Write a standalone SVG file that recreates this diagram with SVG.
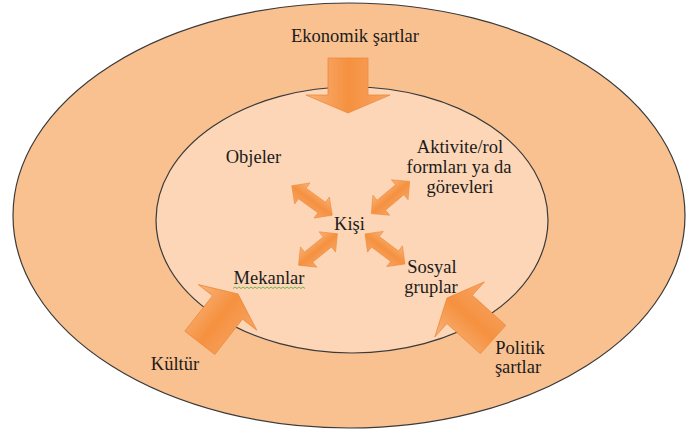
<svg xmlns="http://www.w3.org/2000/svg" width="686" height="434" viewBox="0 0 686 434">
  <defs>
    <linearGradient id="gBig" x1="0" y1="0" x2="1" y2="0">
      <stop offset="0" stop-color="#F9B37B"/>
      <stop offset="0.5" stop-color="#F5913F"/>
      <stop offset="1" stop-color="#F7A465"/>
    </linearGradient>
    <linearGradient id="gSmall" x1="0" y1="0" x2="0" y2="1">
      <stop offset="0" stop-color="#F9B37B"/>
      <stop offset="0.5" stop-color="#F5913F"/>
      <stop offset="1" stop-color="#F7A465"/>
    </linearGradient>
    <polygon id="bigArrow" points="0,0 37,17 19,17 19,62 -19,62 -19,17 -37,17"/>
    <polygon id="dblArrow" points="-25,0 -12,-13 -12,-6.5 12,-6.5 12,-13 25,0 12,13 12,6.5 -12,6.5 -12,13"/>
  </defs>
  <style>
    .outer { fill: #F9C190; stroke: #3a3a3a; stroke-width: 1.2; }
    .inner { fill: #FCD6B6; stroke: #3a3a3a; stroke-width: 1.2; }
    .big { fill: url(#gBig); stroke: #EE8A3C; stroke-width: 0.8; }
    .small { fill: url(#gSmall); stroke: #EE8A3C; stroke-width: 0.6; }
    .lbl { font-family: "Liberation Serif", "Times New Roman", "DejaVu Serif", serif; font-size: 18.5px; fill: #1b1b1b; text-anchor: middle; }
  </style>

  <g id="outer-circle">
    <ellipse class="outer" cx="349" cy="215.5" rx="336" ry="212.5"/>
  </g>
  <g id="inner-circle">
    <ellipse class="inner" cx="352" cy="220" rx="196" ry="133"/>
  </g>

  <g id="connectors">
    <polygon class="big" points="348,113 390,95 368,95 368,58 328,58 328,95 306,95"/>
    <use href="#bigArrow" class="big" transform="translate(238,294) rotate(38)"/>
    <use href="#bigArrow" class="big" transform="translate(447,298) rotate(-48)"/>
    <use href="#dblArrow" class="small" transform="translate(312,200.5) rotate(36)"/>
    <use href="#dblArrow" class="small" transform="translate(390.5,197.5) rotate(-40)"/>
    <use href="#dblArrow" class="small" transform="translate(318,249.5) rotate(-39)"/>
    <use href="#dblArrow" class="small" transform="translate(385,249) rotate(37)"/>
  </g>

  <g font-family="Liberation Serif, serif">
  <g id="node-ekonomik"><text class="lbl" x="355" y="42">Ekonomik şartlar</text></g>
  <g id="node-objeler"><text class="lbl" x="253.5" y="163">Objeler</text></g>
  <g id="node-aktivite">
    <text class="lbl" x="460" y="153">Aktivite/rol</text>
    <text class="lbl" x="459" y="173">formları ya da</text>
    <text class="lbl" x="460" y="193">görevleri</text>
  </g>
  <g id="node-kisi"><text class="lbl" x="349.5" y="230">Kişi</text></g>
  <g id="node-mekanlar">
    <text class="lbl" x="269" y="284">Mekanlar</text>
    <path d="M233 288.5 l2 -1.5 l2 1.5 l2 -1.5 l2 1.5 l2 -1.5 l2 1.5 l2 -1.5 l2 1.5 l2 -1.5 l2 1.5 l2 -1.5 l2 1.5 l2 -1.5 l2 1.5 l2 -1.5 l2 1.5 l2 -1.5 l2 1.5 l2 -1.5 l2 1.5 l2 -1.5 l2 1.5 l2 -1.5 l2 1.5 l2 -1.5 l2 1.5 l2 -1.5 l2 1.5 l2 -1.5 l2 1.5 l2 -1.5 l2 1.5 l2 -1.5 l2 1.5 l2 -1.5 l2 1.5" fill="none" stroke="#5DB04A" stroke-width="0.9"/>
  </g>
  <g id="node-sosyal">
    <text class="lbl" x="432" y="273">Sosyal</text>
    <text class="lbl" x="431" y="293">gruplar</text>
  </g>
  <g id="node-kultur"><text class="lbl" x="175" y="370">Kültür</text></g>
  <g id="node-politik">
    <text class="lbl" x="520" y="354">Politik</text>
    <text class="lbl" x="518" y="373">şartlar</text>
  </g>
  </g>
</svg>
